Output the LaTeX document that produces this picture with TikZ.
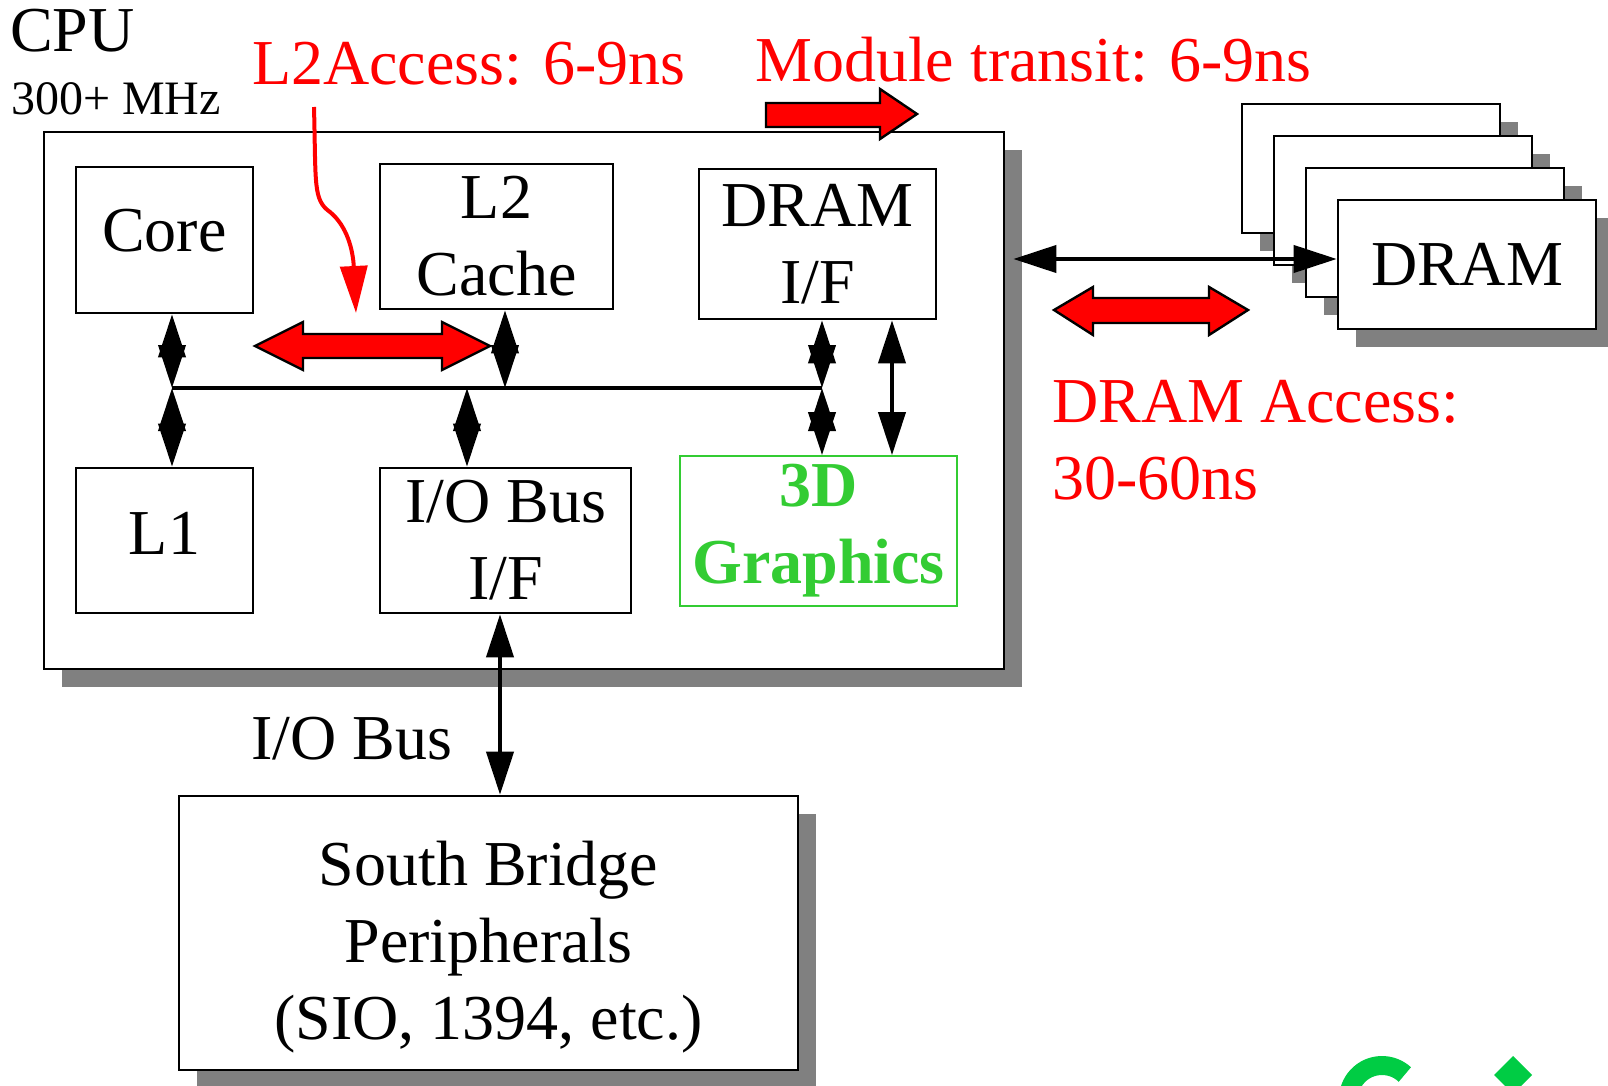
\documentclass[tikz,border=0pt]{standalone}
\usepackage{fontspec}
\setmainfont{Liberation Serif}
\usepackage{tikz}
\usetikzlibrary{arrows.meta}
\usetikzlibrary{shadows}
\definecolor{gfxgreen}{RGB}{51,204,51}
\definecolor{logogreen}{RGB}{0,204,68}
\definecolor{shadowgray}{RGB}{128,128,128}

\begin{document}
\begin{tikzpicture}[x=1pt, y=-1pt,
    every node/.style={font=\fontsize{64}{77}\selectfont},
    box/.style={draw, line width=2.6pt, fill=white, align=center, inner sep=0pt},
    shadowed/.style={drop shadow={shadow xshift=18pt, shadow yshift=-18pt, fill=shadowgray, opacity=1}},
    tag/.style={inner sep=0pt, anchor=base west},
    biarrow/.style={line width=4pt, {Triangle[length=43pt, width=27pt]}-{Triangle[length=43pt, width=27pt]}},
    blockarrow/.style={fill=red, draw=black, line width=2.4pt, line join=miter}]
\useasboundingbox (0,0) rectangle (1608,1086);

% ---------------- Labels ----------------
\node[tag] (cputitle) at (10,52) {CPU};
\node[tag, font=\fontsize{48}{56}\selectfont] (cpuclock) at (11,115) {300+ MHz};
\node[tag, text=red] (l2access) at (252,85) {L2Access: 6-9ns};
\node[tag, text=red] (transit) at (755,82) {Module transit: 6-9ns};
\node[tag, text=red, align=left] (dramaccess) at (1052,499) {DRAM Access:\\30-60ns};
\node[tag] (iobuslabel) at (251,759) {I/O Bus};

% ---------------- CPU package ----------------
\node[box, shadowed, minimum width=960pt, minimum height=537pt] (cpu) at (524,400.5) {};
\node[box, text depth=20pt, minimum width=177pt, minimum height=146pt] (core) at (164.5,240) {Core};
\node[box, minimum width=233pt, minimum height=145pt] (l2) at (496.5,236.5) {L2\\Cache};
\node[box, minimum width=237pt, minimum height=150pt] (dramif) at (817.5,244) {DRAM\\I/F};
\node[box, text depth=15pt, minimum width=177pt, minimum height=145pt] (l1) at (164.5,540.5) {L1};
\node[box, minimum width=251pt, minimum height=145pt] (ioif) at (505.5,540.5) {I/O Bus\\I/F};
\node[box, draw=gfxgreen, text=gfxgreen, line width=1.8pt, font=\fontsize{64}{77}\selectfont\bfseries,
    minimum width=277pt, minimum height=150pt] (gfx) at (818.5,531) {3D\\Graphics};

% ---------------- South bridge ----------------
\node[box, shadowed, text height=226pt, minimum width=619pt, minimum height=274pt] (south) at (488.5,933)
    {South Bridge\\Peripherals\\(SIO, 1394, etc.)};

% ---------------- DRAM modules ----------------
\foreach \i in {0,1,2}
    \node[box, shadowed, minimum width=258pt, minimum height=129pt] (card\i) at (1371+32*\i, 168.5+32*\i) {};
\node[box, shadowed, minimum width=258pt, minimum height=129pt] (dram) at (1467,264.5) {DRAM};

% ---------------- Internal bus ----------------
\coordinate (busL) at (172,388);
\coordinate (busR) at (822,388);
\coordinate (tapL2) at (505,388);
\coordinate (tapIO) at (467,388);
\draw[line width=4pt] (busL) -- (busR);

\draw[biarrow] (busL |- core.south) -- (busL);
\draw[biarrow] (busL) -- (busL |- l1.north);
\draw[biarrow] (tapL2 |- l2.south) -- (tapL2);
\draw[biarrow] (tapIO) -- (tapIO |- ioif.north);
\draw[biarrow] (busR |- dramif.south) -- (busR);
\draw[biarrow] (busR) -- (busR |- gfx.north);
\draw[biarrow] ([xshift=74.5pt]dramif.south) -- ([xshift=74.5pt]dramif.south |- gfx.north);

% ---------------- External links ----------------
\draw[biarrow] ([xshift=-5.5pt]ioif.south) -- ([xshift=-5.5pt]ioif.south |- south.north);
\coordinate (dramport) at ([yshift=5.5pt]dram.west);
\draw[biarrow] ([xshift=8pt]cpu.east |- dramport) -- (dramport);

% ---------------- Latency markers ----------------
\coordinate (l2start) at (314,107);
\coordinate (l2tip) at (356,313);
\draw[red, line width=4pt, -{Triangle[length=47pt, width=27pt]}] (l2start)
    .. controls (316,185) and (313,200) .. (330,212)
    .. controls (347,226) and (353,250) .. (l2tip);

\draw[blockarrow] (255,346) -- (303,322) -- (303,334) -- (442,334) -- (442,322) -- (490,346)
    -- (442,370) -- (442,358) -- (303,358) -- (303,370) -- cycle;
\draw[blockarrow] (766,103) -- (880,103) -- (880,89) -- (917,114) -- (880,139) -- (880,127)
    -- (766,127) -- cycle;
\draw[blockarrow] (1054,310) -- (1093,287) -- (1093,298) -- (1209,298) -- (1209,287) -- (1248,310)
    -- (1209,335) -- (1209,323) -- (1093,323) -- (1093,335) -- cycle;

% ---------------- Logo fragment ----------------
\begin{scope}
    \clip (0,0) rectangle (1608,1086);
    \coordinate (logoC) at (1382,1099);
    \draw[logogreen, line width=19pt] ([shift={(47:33.5pt)}]logoC) arc[start angle=47, end angle=313, radius=33.5pt];
    \fill[logogreen] (1513,1056) -- (1532,1075) -- (1513,1094) -- (1494,1075) -- cycle;
\end{scope}

\end{tikzpicture}
\end{document}
